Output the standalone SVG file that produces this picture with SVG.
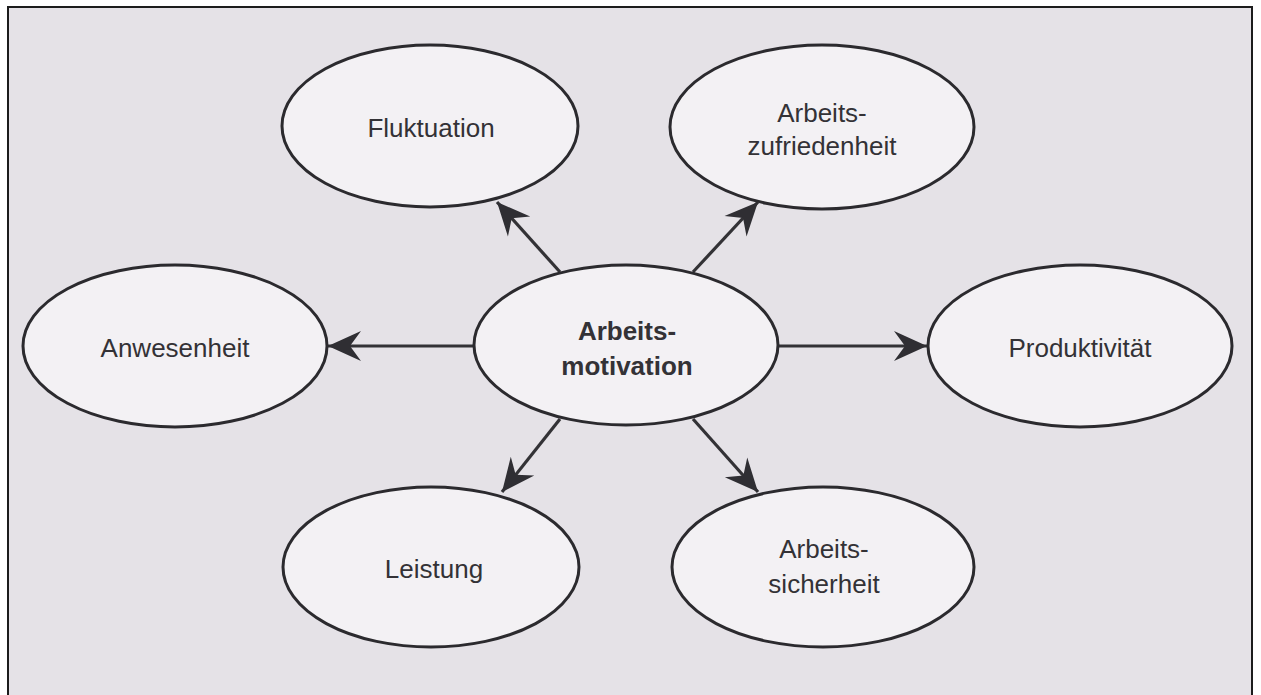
<svg xmlns="http://www.w3.org/2000/svg" width="1261" height="695" viewBox="0 0 1261 695">
  <style>
    .node ellipse { fill: #f3f1f4; stroke: #2b2a2e; stroke-width: 3; }
    .node text { font-family: "Liberation Sans", Arial, sans-serif; font-size: 26px; fill: #333236; text-anchor: middle; }
    .node text.bold { font-weight: bold; }
    .edge { stroke: #333236; stroke-width: 3.2; fill: none; marker-end: url(#arrow); }
  </style>
  <defs>
    <!-- barbed arrowhead, tip at the line end -->
    <marker id="arrow" markerUnits="userSpaceOnUse" markerWidth="36" markerHeight="36" viewBox="-34 -18 36 36" refX="0" refY="0" orient="auto">
      <path d="M0,0 L-33,-15 L-22,0 L-33,15 Z" fill="#2f2e33"/>
    </marker>
  </defs>

  <!-- page and frame -->
  <rect x="0" y="0" width="1261" height="695" fill="#ffffff"/>
  <rect x="8" y="7" width="1244" height="700" fill="#e5e2e7" stroke="#1c1c1c" stroke-width="2"/>

  <!-- connectors -->
  <g id="connectors">
    <line class="edge" x1="560" y1="272" x2="497" y2="202"/>
    <line class="edge" x1="693" y1="272" x2="758" y2="202"/>
    <line class="edge" x1="475" y1="346" x2="328" y2="346"/>
    <line class="edge" x1="778" y1="346" x2="927" y2="346"/>
    <line class="edge" x1="560" y1="419" x2="502" y2="492"/>
    <line class="edge" x1="693" y1="419" x2="758" y2="492"/>
  </g>

  <g id="fluktuation" class="node">
    <ellipse cx="430" cy="126" rx="148" ry="81"/>
    <text x="431" y="137">Fluktuation</text>
  </g>

  <g id="arbeitszufriedenheit" class="node">
    <ellipse cx="822" cy="127" rx="152" ry="82"/>
    <text x="822" y="122">Arbeits-</text>
    <text x="822" y="155">zufriedenheit</text>
  </g>

  <g id="anwesenheit" class="node">
    <ellipse cx="175" cy="346" rx="152" ry="81"/>
    <text x="175" y="357">Anwesenheit</text>
  </g>

  <g id="arbeitsmotivation" class="node">
    <ellipse cx="626" cy="345" rx="152" ry="80"/>
    <text class="bold" x="627" y="340">Arbeits-</text>
    <text class="bold" x="627" y="375">motivation</text>
  </g>

  <g id="produktivitaet" class="node">
    <ellipse cx="1080" cy="346" rx="152" ry="81"/>
    <text x="1080" y="357">Produktivität</text>
  </g>

  <g id="leistung" class="node">
    <ellipse cx="431" cy="567" rx="148" ry="80"/>
    <text x="434" y="578">Leistung</text>
  </g>

  <g id="arbeitssicherheit" class="node">
    <ellipse cx="823" cy="567" rx="151" ry="80"/>
    <text x="824" y="558">Arbeits-</text>
    <text x="824" y="593">sicherheit</text>
  </g>
</svg>
